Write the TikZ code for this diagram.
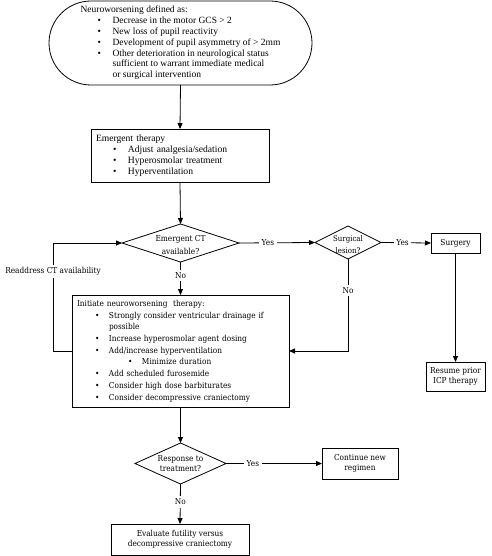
\documentclass[tikz,border=0pt]{standalone}
\usepackage{fontspec}
\setmainfont{Liberation Serif}
\newfontfamily\cam{DejaVu Serif Condensed}
\usetikzlibrary{shapes.geometric,arrows.meta}
\newcommand\bl{\hspace*{17pt}\makebox[15pt][l]{\textbullet}}
\newcommand\cl{\hspace*{32pt}}
\newcommand\bll{\hspace*{18pt}\makebox[14pt][l]{\textbullet}}
\newcommand\cll{\hspace*{32pt}}
\newcommand\sbl{\hspace*{51pt}\makebox[14pt][l]{\textbullet}}
\begin{document}
\begin{tikzpicture}[x=1pt,y=-1pt,
  every node/.style={inner sep=0pt, outer sep=0pt},
  box/.style={draw, line width=0.8pt, align=left},
  cbox/.style={draw, line width=0.8pt, align=center, font=\cam\fontsize{8.2}{10.5}\selectfont},
  dia/.style={draw, diamond, line width=0.8pt, inner sep=0pt},
  dtext/.style={align=center, font=\cam\fontsize{8.2}{13}\selectfont},
  lab/.style={fill=white, inner sep=2.5pt, font=\cam\fontsize{8.2}{10}\selectfont, align=center},
  arr/.style={line width=0.8pt, -{Triangle[length=6pt,width=5pt]}},
  ln/.style={line width=0.8pt}]
\useasboundingbox (0,0) rectangle (491,556);

\node[box, rounded corners=42pt, minimum width=263pt, minimum height=84pt,
  font=\fontsize{9.5}{10.8}\selectfont] (top) at (180.5,43)
  {Neuroworsening defined as:\\
   \bl Decrease in the motor GCS > 2\\
   \bl New loss of pupil reactivity\\
   \bl Development of pupil asymmetry of > 2mm\\
   \bl Other deterioration in neurological status\\
   \cl sufficient to warrant immediate medical\\
   \cl or surgical intervention};

\node[box, minimum width=178pt, minimum height=53pt, text width=168pt, inner xsep=5pt,
  font=\fontsize{9.6}{11}\selectfont] (emt) at (180,155.5)
  {Emergent therapy\\
   \bl Adjust analgesia/sedation\\
   \bl Hyperosmolar treatment\\
   \bl Hyperventilation};

\node[dia, minimum width=117pt, minimum height=38pt] (ct) at (180.5,243) {};
\node[dtext] (ctt) at ([yshift=-2pt]ct.center) {Emergent CT\\available?};

\node[dia, minimum width=66pt, minimum height=33pt] (sl) at (348,242.5) {};
\node[dtext, font=\cam\fontsize{7.8}{12.5}\selectfont] (slt) at ([yshift=-2pt]sl.center) {Surgical\\lesion?};

\node[cbox, minimum width=49pt, minimum height=20pt] (sur) at (455.5,243) {Surgery};
\node[cbox, minimum width=59pt, minimum height=29pt] (res) at (455.5,376.5) {Resume prior\\ICP therapy};

\node[box, minimum width=217pt, minimum height=112pt, text width=207pt, inner xsep=5pt,
  font=\cam\fontsize{8.2}{11.7}\selectfont] (ini) at (180.5,351)
  {Initiate neuroworsening\ \ therapy:\\
   \bll Strongly consider ventricular drainage if\\
   \cll possible\\
   \bll Increase hyperosmolar agent dosing\\
   \bll Add/increase hyperventilation\\
   \sbl Minimize duration\\
   \bll Add scheduled furosemide\\
   \bll Consider high dose barbiturates\\
   \bll Consider decompressive craniectomy};

\node[dia, minimum width=91pt, minimum height=41pt] (rsp) at (180.5,463.5) {};
\node[dtext, font=\cam\fontsize{8.2}{10.5}\selectfont] (rspt) at (rsp) {Response to\\treatment?};

\node[cbox, minimum width=76pt, minimum height=31pt] (cnt) at (360,463.5) {Continue new\\regimen};
\node[cbox, minimum width=138pt, minimum height=31pt] (evl) at (180,539.5) {Evaluate futility versus\\decompressive craniectomy};

\draw[arr] (top.south) -- (emt.north);
\draw[arr] (emt.south) -- (ct.north);
\draw[arr] (ct.east) -- node[lab, pos=0.38] {Yes} (sl.west);
\draw[arr] (sl.east) -- node[lab, pos=0.43] {Yes} (sur.west);
\draw[arr] (sur.south) -- (res.north);
\draw[arr] (ct.south) -- node[lab, pos=0.4] {No} (ct.south |- ini.north);
\draw[arr] (sl.south) -- node[lab, pos=0.34] {No} (sl.south |- ini.east) -- (ini.east);
\draw[arr] (ini.west) -- ++(-19,0) coordinate (rl)
  -- node[lab, pos=0.74] {Readdress CT availability} (rl |- ct.west) -- (ct.west);
\draw[arr] (ini.south) -- (rsp.north);
\draw[arr] (rsp.east) -- node[lab, pos=0.28] {Yes} (cnt.west);
\draw[arr] (rsp.south) -- node[lab, pos=0.45] {No} (evl.north);
\end{tikzpicture}
\end{document}
